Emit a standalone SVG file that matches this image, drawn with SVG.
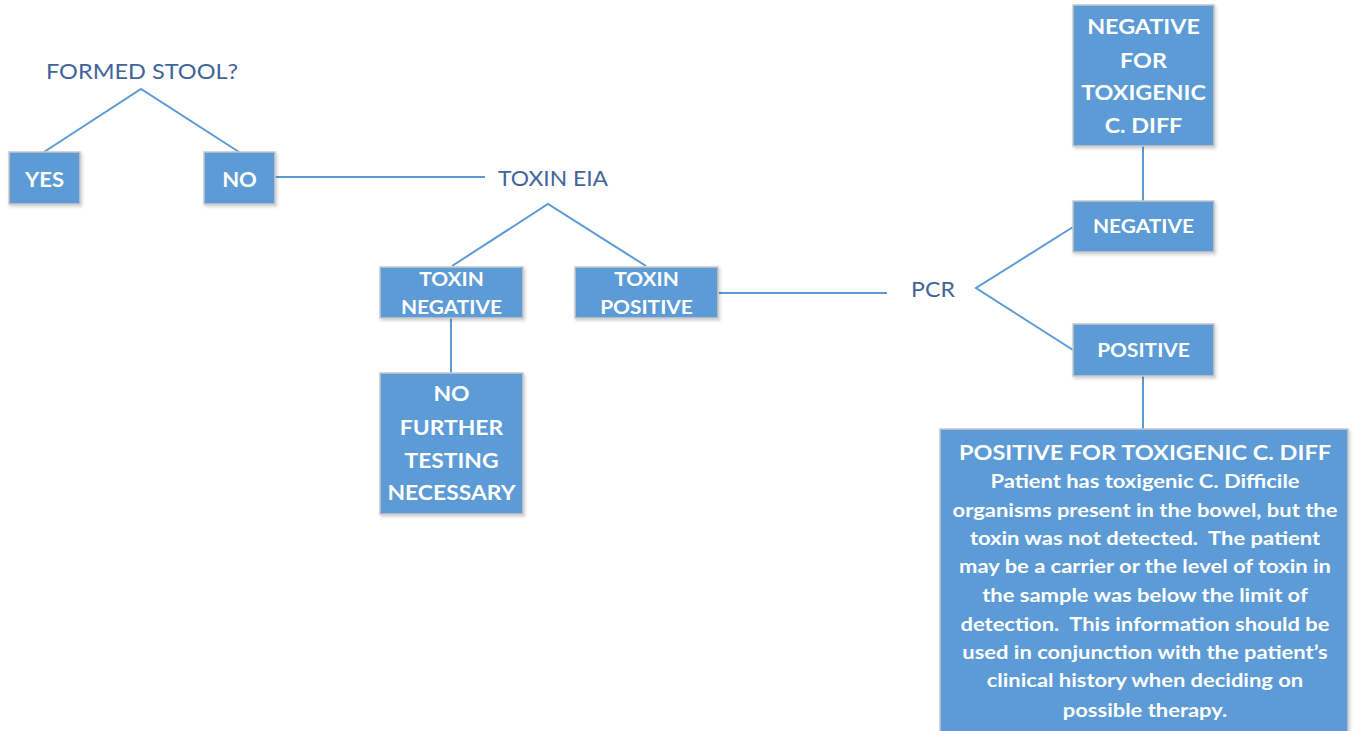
<svg xmlns="http://www.w3.org/2000/svg" width="1356" height="731" viewBox="0 0 1356 731">
<defs>
<filter id="shadow" x="-10%" y="-10%" width="130%" height="130%">
<feDropShadow dx="1.5" dy="2" stdDeviation="1.5" flood-color="#000000" flood-opacity="0.18"/>
</filter>
</defs>
<style>
.box{fill:#5B9BD5;stroke:#C8C8C8;stroke-width:1.5;filter:url(#shadow)}
.bt{font-family:Lato,"Liberation Sans",sans-serif;font-weight:bold;fill:#FFFFFF;text-anchor:middle}
.lb{font-family:Lato,"Liberation Sans",sans-serif;fill:#41649A;text-anchor:middle}
.ln{stroke:#5B9BD5;stroke-width:2;fill:none}
</style>
<rect width="1356" height="731" fill="#FFFFFF"/>
<g id="connectors">
<polyline class="ln" points="44,152 141,89 239,152"/>
<line class="ln" x1="275" y1="177" x2="485" y2="177"/>
<polyline class="ln" points="452,266 548,204 646,266"/>
<line class="ln" x1="451" y1="318" x2="451" y2="373"/>
<line class="ln" x1="718" y1="293" x2="887" y2="293"/>
<polyline class="ln" points="1073,227 976,288 1073,350"/>
<line class="ln" x1="1143" y1="146" x2="1143" y2="201"/>
<line class="ln" x1="1143" y1="376" x2="1143" y2="429"/>
</g>
<g id="formed-stool"><text class="lb" transform="translate(142,0) scale(1.12,1)" x="0" y="79" font-size="21">FORMED STOOL?</text></g>
<g id="yes"><rect class="box" x="9" y="152" width="71" height="52"/><text class="bt" transform="translate(44.5,0) scale(1.1,1)" x="0" y="187" font-size="20">YES</text></g>
<g id="no"><rect class="box" x="204" y="152" width="71" height="52"/><text class="bt" transform="translate(239.5,0) scale(1.1,1)" x="0" y="187" font-size="20">NO</text></g>
<g id="toxin-eia"><text class="lb" transform="translate(553,0) scale(1.09,1)" x="0" y="186" font-size="21">TOXIN EIA</text></g>
<g id="toxin-negative"><rect class="box" x="380" y="267" width="143" height="51"/><g transform="translate(451.5,0) scale(1.1,1)"><text class="bt" x="0" y="286" font-size="19">TOXIN</text><text class="bt" x="0" y="314" font-size="19">NEGATIVE</text></g></g>
<g id="toxin-positive"><rect class="box" x="575" y="267" width="143" height="51"/><g transform="translate(646.5,0) scale(1.1,1)"><text class="bt" x="0" y="286" font-size="19">TOXIN</text><text class="bt" x="0" y="314" font-size="19">POSITIVE</text></g></g>
<g id="no-further"><rect class="box" x="380" y="373" width="143" height="141"/><g transform="translate(451.5,0) scale(1.09,1)"><text class="bt" x="0" y="401" font-size="21">NO</text><text class="bt" x="0" y="435" font-size="21">FURTHER</text><text class="bt" x="0" y="468" font-size="21">TESTING</text><text class="bt" x="0" y="500" font-size="21">NECESSARY</text></g></g>
<g id="pcr"><text class="lb" transform="translate(933,0) scale(1.1,1)" x="0" y="297" font-size="21">PCR</text></g>
<g id="neg-toxigenic"><rect class="box" x="1073" y="5" width="141" height="141"/><g transform="translate(1143.5,0) scale(1.11,1)"><text class="bt" x="0" y="34" font-size="21">NEGATIVE</text><text class="bt" x="0" y="68" font-size="21">FOR</text><text class="bt" x="0" y="100" font-size="21">TOXIGENIC</text><text class="bt" x="0" y="133" font-size="21">C. DIFF</text></g></g>
<g id="pcr-negative"><rect class="box" x="1073" y="201" width="141" height="51"/><text class="bt" transform="translate(1143.5,0) scale(1.1,1)" x="0" y="233" font-size="19">NEGATIVE</text></g>
<g id="pcr-positive"><rect class="box" x="1073" y="324" width="141" height="52"/><text class="bt" transform="translate(1143.5,0) scale(1.1,1)" x="0" y="357" font-size="19">POSITIVE</text></g>
<g id="pos-toxigenic"><rect class="box" x="940" y="429" width="408" height="310"/>
<text class="bt" transform="translate(1145,0) scale(1.12,1)" x="0" y="460" font-size="21">POSITIVE FOR TOXIGENIC C. DIFF</text>
<text class="bt" transform="translate(1145,0) scale(1.22,1)" font-size="18" xml:space="preserve" style="white-space:pre"><tspan x="0" y="488">Patient has toxigenic C. Difficile</tspan><tspan x="0" y="517">organisms present in the bowel, but the</tspan><tspan x="0" y="545">toxin was not detected.  The patient</tspan><tspan x="0" y="573">may be a carrier or the level of toxin in</tspan><tspan x="0" y="602">the sample was below the limit of</tspan><tspan x="0" y="631">detection.  This information should be</tspan><tspan x="0" y="659">used in conjunction with the patient’s</tspan><tspan x="0" y="687">clinical history when deciding on</tspan><tspan x="0" y="717">possible therapy.</tspan></text>
</g>
</svg>
